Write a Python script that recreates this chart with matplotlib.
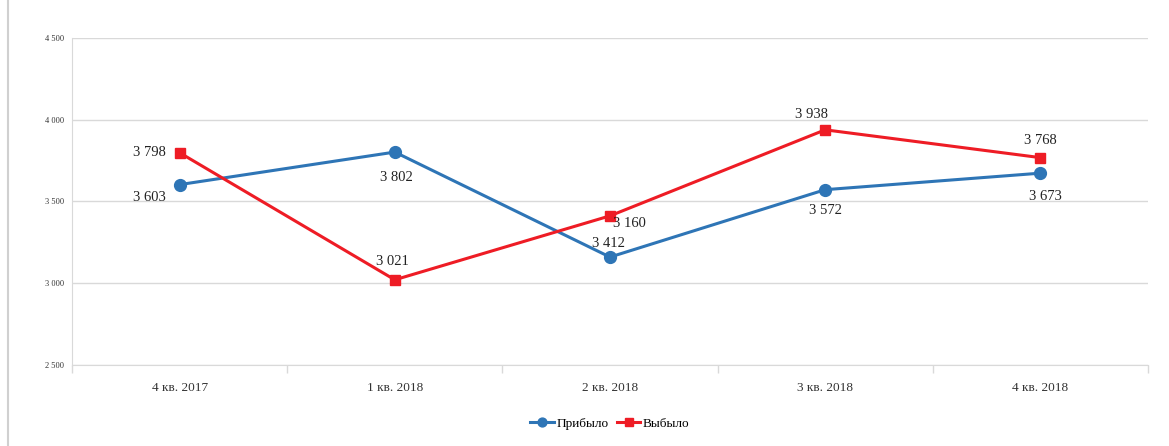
import matplotlib.pyplot as plt
from matplotlib.lines import Line2D

# data
quarters = ["4 кв. 2017", "1 кв. 2018", "2 кв. 2018", "3 кв. 2018", "4 кв. 2018"]
arrived = [3603, 3802, 3160, 3572, 3673]   # Прибыло
left = [3798, 3021, 3412, 3938, 3768]      # Выбыло
y_ticks = [2500, 3000, 3500, 4000, 4500]

# label offsets in points (dx, dy) as placed on the original
arrived_off = [(-22, -9), (1, -18), (14, 24), (0, -15), (4, -17)]
left_off = [(-22, 0), (-2, 13), (-1, -20), (-10, 11), (0, 12)]

BLUE = "#2e75b6"
RED = "#ee1c25"

plt.rcParams['font.family'] = ['Liberation Serif', 'DejaVu Serif']

fig = plt.figure(figsize=(11.69, 4.46), dpi=100)
ax = fig.add_axes([0.0616, 0.1816, 0.9204, 0.7334])

x = list(range(len(quarters)))
ax.plot(x, arrived, color=BLUE, lw=2.2, marker='o', ms=8.5, label="Прибыло", zorder=3)
ax.plot(x, left, color=RED, lw=2.2, marker='s', ms=7.5, label="Выбыло", zorder=3)

def fmt(v):
    return "{:,}".format(v).replace(",", " ")

for xi, v, off in zip(x, arrived, arrived_off):
    ax.annotate(fmt(v), (xi, v), xytext=off, textcoords='offset points',
                ha='center', va='center', fontsize=10.5, color='#222222')
for xi, v, off in zip(x, left, left_off):
    ax.annotate(fmt(v), (xi, v), xytext=off, textcoords='offset points',
                ha='center', va='center', fontsize=10.5, color='#222222')

ax.set_xlim(-0.5, len(quarters) - 0.5)
ax.set_ylim(2500, 4500)
ax.set_yticks(y_ticks)
ax.set_yticklabels([fmt(t) for t in y_ticks], fontsize=6, color='#333333')
ax.set_xticks(x)
ax.set_xticklabels(quarters, fontsize=9.5, color='#333333')
ax.tick_params(axis='x', length=0, pad=12)
ax.tick_params(axis='y', length=0, pad=6)
ax.set_xticks([i - 0.5 for i in range(len(quarters) + 1)], minor=True)
ax.tick_params(axis='x', which='minor', length=6, color='#d9d9d9', width=1)

ax.grid(axis='y', color='#d9d9d9', lw=1)
ax.set_axisbelow(True)
for s in ['top', 'right']:
    ax.spines[s].set_visible(False)
ax.spines['left'].set_color('#d9d9d9')
ax.spines['bottom'].set_color('#d9d9d9')

ax.legend(loc='upper center', bbox_to_anchor=(0.5, -0.125), ncol=2, frameon=False,
          fontsize=9.5, handlelength=1.8, columnspacing=0.6, handletextpad=0.2,
          markerscale=0.75)

# outer chart frame on the left
fig.add_artist(Line2D([0.007, 0.007], [0.0, 1.0], color='#d0d0d0', lw=1.5))

fig.savefig("out.png", dpi=100)
